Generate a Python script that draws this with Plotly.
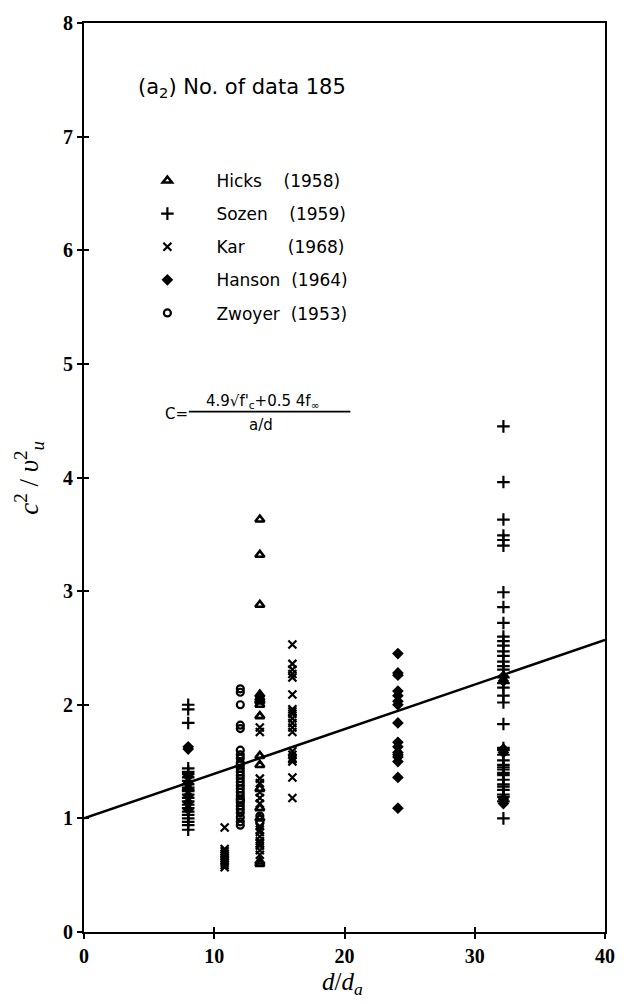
import plotly.graph_objects as go

# --- measured ratios c^2 / v_u^2 against d / d_a, grouped by test series ---
hicks_x = [13.5] * 16
hicks_y = [3.63, 3.32, 2.88, 2.09, 2.06, 2.04, 2.03, 2.00, 1.90, 1.55, 1.47,
           1.26, 1.09, 1.00, 0.62, 0.60]

sozen_x = [8.0] * 23 + [32.2] * 40
sozen_y = [2.00, 1.96, 1.84, 1.44, 1.41, 1.39, 1.36, 1.33, 1.30, 1.27, 1.25,
           1.24, 1.21, 1.18, 1.15, 1.12, 1.09, 1.06, 1.03, 1.00, 0.97, 0.94,
           0.90,
           4.45, 3.96, 3.63, 3.49, 3.45, 3.40, 2.99, 2.86, 2.72, 2.60, 2.56,
           2.52, 2.47, 2.43, 2.38, 2.34, 2.31, 2.24, 2.19, 2.15, 2.08, 2.02,
           1.83, 1.62, 1.60, 1.56, 1.51, 1.47, 1.45, 1.43, 1.40, 1.38, 1.34,
           1.30, 1.28, 1.25, 1.21, 1.19, 1.15, 1.00]

kar_x = [10.8] * 10 + [13.5] * 16 + [16.0] * 20
kar_y = [0.92, 0.73, 0.71, 0.69, 0.67, 0.65, 0.63, 0.61, 0.59, 0.57,
         1.80, 1.76, 1.35, 1.31, 1.23, 1.18, 1.13, 0.93, 0.90, 0.88, 0.84,
         0.80, 0.78, 0.76, 0.72, 0.68,
         2.53, 2.36, 2.31, 2.27, 2.24, 2.09, 1.96, 1.94, 1.92, 1.88, 1.84,
         1.80, 1.76, 1.59, 1.56, 1.53, 1.52, 1.50, 1.36, 1.18]

hanson_x = [8.0] * 8 + [24.1] * 16 + [32.2] * 6
hanson_y = [1.63, 1.61, 1.37, 1.31, 1.26, 1.20, 1.14, 1.08,
            2.45, 2.28, 2.26, 2.12, 2.08, 2.03, 2.00, 1.84, 1.67, 1.63, 1.58,
            1.56, 1.54, 1.50, 1.36, 1.09,
            2.25, 2.21, 1.61, 1.58, 1.17, 1.13]

zwoyer_x = [12.0] * 28 + [13.5] * 2
zwoyer_y = [2.14, 2.11, 2.00, 1.82, 1.79, 1.60, 1.56, 1.53, 1.49, 1.47, 1.44,
            1.41, 1.38, 1.35, 1.32, 1.29, 1.26, 1.23, 1.20, 1.17, 1.16, 1.14,
            1.11, 1.08, 1.05, 1.01, 0.97, 0.94,
            1.02, 0.96]

# fitted trend line
fit_x = [0, 40]
fit_y = [1.0, 2.57]

x_ticks = [0, 10, 20, 30, 40]
y_ticks = [0, 1, 2, 3, 4, 5, 6, 7, 8]

NBSP = "\u00a0"
series = [
    ("Hicks" + NBSP * 4 + "(1958)", hicks_x, hicks_y,
     dict(symbol="triangle-up-open", size=8, line=dict(width=2.6, color="black"))),
    ("Sozen" + NBSP * 4 + "(1959)", sozen_x, sozen_y,
     dict(symbol="cross-thin", size=9, line=dict(width=2.2, color="black"))),
    ("Kar" + NBSP * 8 + "(1968)", kar_x, kar_y,
     dict(symbol="x-thin", size=8, line=dict(width=2.2, color="black"))),
    ("Hanson" + NBSP * 2 + "(1964)", hanson_x, hanson_y,
     dict(symbol="diamond", size=9, color="black", line=dict(width=0))),
    ("Zwoyer" + NBSP * 2 + "(1953)", zwoyer_x, zwoyer_y,
     dict(symbol="circle-open", size=7, line=dict(width=2.2, color="black"))),
]

fig = go.Figure()
for i, (name, xs, ys, mk) in enumerate(series):
    marker = dict(color="black")
    marker.update(mk)
    fig.add_trace(go.Scatter(x=xs, y=ys, mode="markers", name=name,
                             legendgroup=f"g{i}", marker=marker))

fig.add_trace(go.Scatter(x=fit_x, y=fit_y, mode="lines", showlegend=False,
                         line=dict(color="black", width=2.5),
                         xaxis="x2", yaxis="y2"))

tick_font = dict(family="Liberation Serif", size=20, color="black",
                 weight="bold")
axis_common = dict(showgrid=False, zeroline=False, showline=True, linewidth=2.2,
                   linecolor="black", mirror=True, ticks="outside", ticklen=5,
                   tickwidth=1.8, tickcolor="black", tickfont=tick_font)

fig.update_layout(
    width=627, height=1004,
    margin=dict(l=84, r=12, t=16, b=72),
    paper_bgcolor="white", plot_bgcolor="white",
    font=dict(family="DejaVu Sans", color="black"),
    xaxis=dict(range=[0, 40], tickvals=x_ticks, **axis_common),
    yaxis=dict(range=[0, 8], tickvals=y_ticks, **axis_common),
    # companion axes carry the inner half of each crossing tick
    xaxis2=dict(range=[0, 40], tickvals=x_ticks, overlaying="x", side="bottom",
                showticklabels=False, showgrid=False, zeroline=False,
                showline=False, ticks="inside", ticklen=5, tickwidth=1.8,
                tickcolor="black"),
    yaxis2=dict(range=[0, 8], tickvals=y_ticks, overlaying="y", side="left",
                showticklabels=False, showgrid=False, zeroline=False,
                showline=False, ticks="inside", ticklen=5, tickwidth=1.8,
                tickcolor="black"),
    showlegend=True,
    legend=dict(x=0.066, y=0.846, xanchor="left", yanchor="top",
                bgcolor="rgba(0,0,0,0)", borderwidth=0,
                font=dict(family="DejaVu Sans", size=17, color="black"),
                itemwidth=88, tracegroupgap=8, traceorder="grouped",
                itemclick=False),
)

# fraction bar of the formula
fig.add_shape(type="line", xref="x", yref="y", x0=8.05, x1=20.45, y0=4.58,
              y1=4.58, line=dict(color="black", width=1.8))

ann = [
    dict(text="(a<sub>2</sub>) No. of data 185", x=4.0, y=7.43, xref="x",
         yref="y", xanchor="left", yanchor="middle",
         font=dict(family="DejaVu Sans", size=21)),
    dict(text="C=", x=8.1, y=4.56, xref="x", yref="y", xanchor="right",
         yanchor="middle", font=dict(family="DejaVu Sans", size=15)),
    dict(text="4.9\u221af'<sub>c</sub>+0.5 4f<sub>\u221e</sub>", x=9.2, y=4.67,
         xref="x", yref="y", xanchor="left", yanchor="middle",
         font=dict(family="DejaVu Sans", size=15)),
    dict(text="a/d", x=13.6, y=4.46, xref="x", yref="y", xanchor="center",
         yanchor="middle", font=dict(family="DejaVu Sans", size=15)),
    dict(text="<i>d</i>/<i>d</i><sub><i>a</i></sub>", x=0.496, y=-0.057,
         xref="paper", yref="paper", xanchor="center", yanchor="middle",
         font=dict(family="Liberation Serif", size=25)),
    dict(text="<i>c</i><sup>2</sup> / <i>\u03c5</i><sup>2</sup><sub><i>u</i></sub>",
         x=-0.107, y=0.5, xref="paper", yref="paper", textangle=-90,
         xanchor="center", yanchor="middle",
         font=dict(family="Liberation Serif", size=27)),
]
for a in ann:
    a["showarrow"] = False
    fig.add_annotation(**a)

fig.write_html("out.html")
